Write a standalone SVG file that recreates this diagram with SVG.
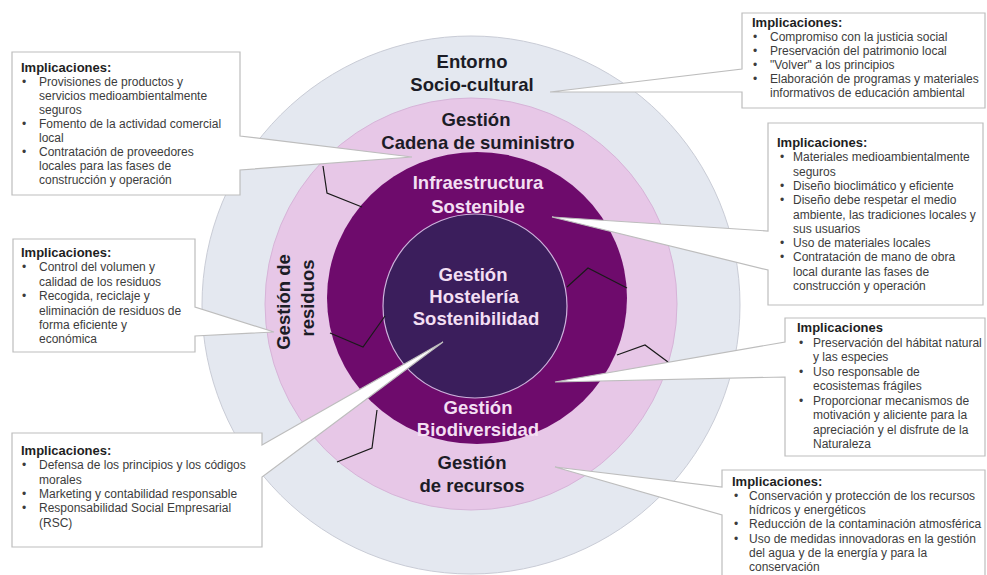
<svg xmlns="http://www.w3.org/2000/svg" width="987" height="575" viewBox="0 0 987 575">
  <style>
    .ring-outer { fill: #e4e8f0; stroke: #c9ccd6; stroke-width: 1; }
    .ring-pink { fill: #e7c7e7; stroke: #d6b4d8; stroke-width: 1; }
    .ring-purple { fill: #6e0b6c; }
    .core { fill: #3b1e5c; stroke: #cdb3dc; stroke-width: 1.2; }
    .lbl { font-family: "Liberation Sans", Arial, sans-serif; font-weight: bold; font-size: 18.5px; text-anchor: middle; }
    .dark { fill: #1c1c26; }
    .light { fill: #f3dff3; }
    .callout { fill: #ffffff; stroke: #bdbdbd; stroke-width: 1.2; stroke-linejoin: miter; }
    .h { font-family: "Liberation Sans", Arial, sans-serif; font-weight: bold; font-size: 13px; fill: #1e1e1e; }
    .t { font-family: "Liberation Sans", Arial, sans-serif; font-size: 12px; fill: #3c3c3c; }
    .jag { fill: none; stroke: #1a1a1a; stroke-width: 1.2; }
  </style>

  <!-- concentric rings -->
  <g id="rings">
    <circle class="ring-outer" cx="471" cy="305" r="269"/>
    <circle class="ring-pink" cx="471" cy="304" r="206"/>
    <ellipse class="ring-purple" cx="477" cy="298" rx="150" ry="146"/>
    <circle class="core" cx="475" cy="306" r="92"/>
  </g>

  <!-- thin separators between ring sectors -->
  <g id="connectors">
    <polyline class="jag" points="323,166 327,193 362,207"/>
    <polyline class="jag" points="567,287 588,268 627,288"/>
    <polyline class="jag" points="330,333 363,347 385,316"/>
    <polyline class="jag" points="617,355 645,345 668,362"/>
    <polyline class="jag" points="377,410 372,448 337,462"/>
  </g>

  <!-- ring labels -->
  <g id="entorno">
    <text class="lbl dark" x="472" y="68">Entorno</text>
    <text class="lbl dark" x="472" y="91">Socio-cultural</text>
  </g>
  <g id="cadena">
    <text class="lbl dark" x="476" y="126">Gestión</text>
    <text class="lbl dark" x="478" y="149">Cadena de suministro</text>
  </g>
  <g id="infraestructura">
    <text class="lbl light" x="478" y="189">Infraestructura</text>
    <text class="lbl light" x="478" y="213">Sostenible</text>
  </g>
  <g id="hosteleria">
    <text class="lbl light" x="473" y="281">Gestión</text>
    <text class="lbl light" x="474" y="303">Hostelería</text>
    <text class="lbl light" x="476" y="325">Sostenibilidad</text>
  </g>
  <g id="biodiversidad">
    <text class="lbl light" x="478" y="414">Gestión</text>
    <text class="lbl light" x="478" y="436">Biodiversidad</text>
  </g>
  <g id="recursos">
    <text class="lbl dark" x="472" y="469">Gestión</text>
    <text class="lbl dark" x="472" y="492">de recursos</text>
  </g>
  <g id="residuos">
    <text class="lbl dark" transform="translate(290,302) rotate(-90)" x="0" y="0">Gestión de</text>
    <text class="lbl dark" transform="translate(314,298) rotate(-90)" x="0" y="0">residuos</text>
  </g>

  <!-- callout: supply chain -->
  <g id="callout-cadena">
    <path class="callout" d="M12,52 H240 V136 L412,157 L240,170 V195 H12 Z"/>
    <text class="h" x="21" y="72">Implicaciones:</text>
    <g class="t">
      <text x="22" y="86">•</text><text x="39" y="86">Provisiones de productos y</text>
      <text x="39" y="100">servicios medioambientalmente</text>
      <text x="39" y="114">seguros</text>
      <text x="22" y="128">•</text><text x="39" y="128">Fomento de la actividad comercial</text>
      <text x="39" y="142">local</text>
      <text x="22" y="156">•</text><text x="39" y="156">Contratación de proveedores</text>
      <text x="39" y="170">locales para las fases de</text>
      <text x="39" y="184">construcción y operación</text>
    </g>
  </g>

  <!-- callout: socio-cultural -->
  <g id="callout-entorno">
    <path class="callout" d="M742,13 H985 V108 H742 V92 L550,92 L742,69 Z"/>
    <text class="h" x="752" y="27">Implicaciones:</text>
    <g class="t">
      <text x="753" y="41">•</text><text x="770" y="41">Compromiso con la justicia social</text>
      <text x="753" y="55">•</text><text x="770" y="55">Preservación del patrimonio local</text>
      <text x="753" y="69">•</text><text x="770" y="69">"Volver" a los principios</text>
      <text x="753" y="83">•</text><text x="770" y="83">Elaboración de programas y materiales</text>
      <text x="770" y="97">informativos de educación ambiental</text>
    </g>
  </g>

  <!-- callout: infrastructure -->
  <g id="callout-infraestructura">
    <path class="callout" d="M768,123 H983 V305 H768 V270 L552,217 L768,231 Z"/>
    <text class="h" x="777" y="147">Implicaciones:</text>
    <g class="t">
      <text x="780" y="161.3">•</text><text x="793" y="161.3">Materiales medioambientalmente</text>
      <text x="793" y="175.6">seguros</text>
      <text x="780" y="189.9">•</text><text x="793" y="189.9">Diseño bioclimático y eficiente</text>
      <text x="780" y="204.2">•</text><text x="793" y="204.2">Diseño debe respetar el medio</text>
      <text x="793" y="218.5">ambiente, las tradiciones locales y</text>
      <text x="793" y="232.8">sus usuarios</text>
      <text x="780" y="247.1">•</text><text x="793" y="247.1">Uso de materiales locales</text>
      <text x="780" y="261.4">•</text><text x="793" y="261.4">Contratación de mano de obra</text>
      <text x="793" y="275.7">local durante las fases de</text>
      <text x="793" y="290">construcción y operación</text>
    </g>
  </g>

  <!-- callout: waste -->
  <g id="callout-residuos">
    <path class="callout" d="M13,239 H195 V307 L274,332 L195,336 V352 H13 Z"/>
    <text class="h" x="21" y="257">Implicaciones:</text>
    <g class="t">
      <text x="22" y="271.4">•</text><text x="39" y="271.4">Control del volumen y</text>
      <text x="39" y="285.8">calidad de los residuos</text>
      <text x="22" y="300.2">•</text><text x="39" y="300.2">Recogida, reciclaje y</text>
      <text x="39" y="314.6">eliminación de residuos de</text>
      <text x="39" y="329">forma eficiente y</text>
      <text x="39" y="343.4">económica</text>
    </g>
  </g>

  <!-- callout: biodiversity -->
  <g id="callout-biodiversidad">
    <path class="callout" d="M785,318 H985 V456 H785 V377 L555,382 L785,342 Z"/>
    <text class="h" x="797" y="332">Implicaciones</text>
    <g class="t">
      <text x="799" y="346.5">•</text><text x="813" y="346.5">Preservación del hábitat natural</text>
      <text x="813" y="361">y las especies</text>
      <text x="799" y="375.5">•</text><text x="813" y="375.5">Uso responsable de</text>
      <text x="813" y="390">ecosistemas frágiles</text>
      <text x="799" y="404.5">•</text><text x="813" y="404.5">Proporcionar mecanismos de</text>
      <text x="813" y="419">motivación y aliciente para la</text>
      <text x="813" y="433.5">apreciación y el disfrute de la</text>
      <text x="813" y="448">Naturaleza</text>
    </g>
  </g>

  <!-- callout: hospitality core -->
  <g id="callout-hosteleria">
    <path class="callout" d="M12,433 H262 V445 L443,342 L262,477 V547 H12 Z"/>
    <text class="h" x="21" y="455">Implicaciones:</text>
    <g class="t">
      <text x="22" y="469.3">•</text><text x="39" y="469.3">Defensa de los principios y los códigos</text>
      <text x="39" y="483.6">morales</text>
      <text x="22" y="497.9">•</text><text x="39" y="497.9">Marketing y contabilidad responsable</text>
      <text x="22" y="512.2">•</text><text x="39" y="512.2">Responsabilidad Social Empresarial</text>
      <text x="39" y="526.5">(RSC)</text>
    </g>
  </g>

  <!-- callout: resources -->
  <g id="callout-recursos">
    <path class="callout" d="M722,470 H985 V585 H722 V515 L555,467 L722,487 Z"/>
    <text class="h" x="732" y="486">Implicaciones:</text>
    <g class="t">
      <text x="734" y="500">•</text><text x="749" y="500">Conservación y protección de los recursos</text>
      <text x="749" y="514.2">hídricos y energéticos</text>
      <text x="734" y="528.4">•</text><text x="749" y="528.4">Reducción de la contaminación atmosférica</text>
      <text x="734" y="542.6">•</text><text x="749" y="542.6">Uso de medidas innovadoras en la gestión</text>
      <text x="749" y="556.8">del agua y de la energía y para la</text>
      <text x="749" y="571">conservación</text>
    </g>
  </g>
</svg>
